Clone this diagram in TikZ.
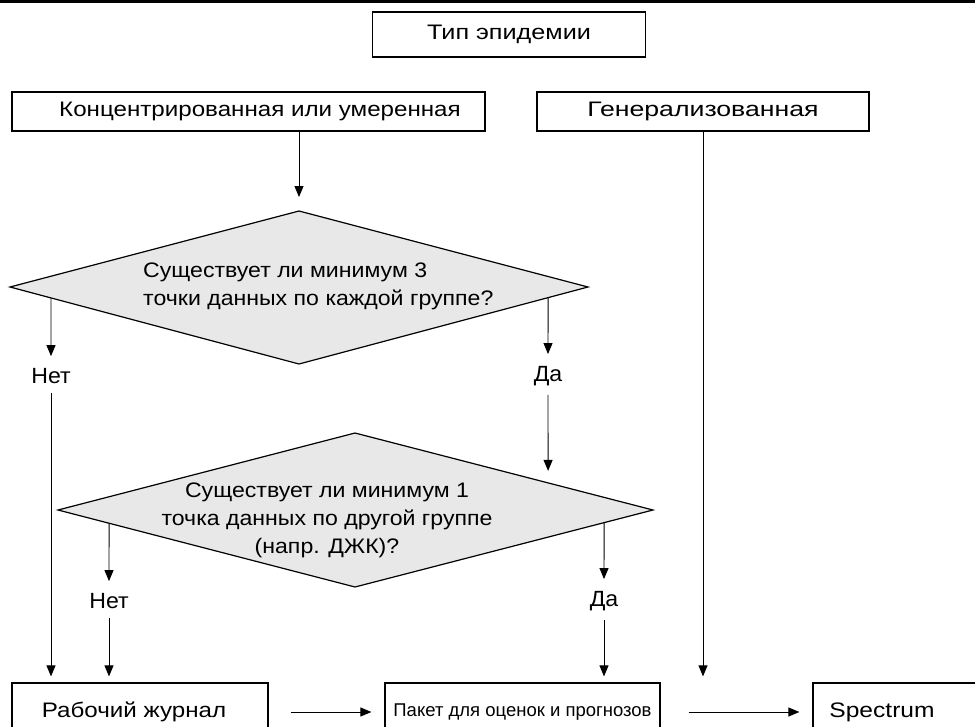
\documentclass[tikz,border=0pt]{standalone}
\usepackage{fontspec}
\setmainfont{Liberation Sans}
\usetikzlibrary{arrows.meta,calc}
\definecolor{diagray}{RGB}{232,232,232}
\newcommand\hsx[2]{\scalebox{#1}[1]{#2}}
\begin{document}
\begin{tikzpicture}[x=1pt,y=-1pt,
  box/.style={draw, line width=1.2pt, inner sep=0pt, anchor=center, font=\fontsize{21}{24}\selectfont},
  arr/.style={line width=0.9pt, -{Triangle[length=11pt,width=9pt]}},
  dia/.style={draw, line width=1.2pt, fill=diagray},
  txt/.style={font=\fontsize{21}{28}\selectfont, inner sep=0pt},
  lbl/.style={font=\fontsize{22}{22}\selectfont, inner sep=0pt}
]
\useasboundingbox (0,0) rectangle (975,726);
\draw[line width=3.5pt] (0,1.5) -- (975,1.5);

% top boxes
\node[box, minimum width=273pt, minimum height=45pt] (tip) at (509,34.5) {\hsx{1.2}{Тип эпидемии}};
\node[box, minimum width=473pt, minimum height=39pt] (conc) at (248.5,111.5) {};
\node[box, draw=none] (conct) at (260,111.5) {\hsx{1.15}{Концентрированная или умеренная}};
\node[box, minimum width=332pt, minimum height=39pt] (gen) at (703,111.5) {\hsx{1.27}{Генерализованная}};

% diamond 1
\coordinate (d1L) at (10,287);
\coordinate (d1R) at (588,287);
\coordinate (d1T) at (299,211);
\coordinate (d1B) at (299,364);
\draw[dia] (d1L) -- (d1T) -- (d1R) -- (d1B) -- cycle;
\node[txt, align=left, anchor=west] (q1) at (143,286) {\hsx{1.1}{Существует ли минимум 3}\\\hsx{1.1}{точки данных по каждой группе?}};
\coordinate (d1a) at ($(d1L)!0.142!(d1B)$);
\coordinate (d1b) at ($(d1R)!0.138!(d1B)$);

% diamond 2
\coordinate (d2L) at (58,510);
\coordinate (d2R) at (653,510);
\coordinate (d2T) at (355,433);
\coordinate (d2B) at (355,587);
\draw[dia] (d2L) -- (d2T) -- (d2R) -- (d2B) -- cycle;
\node[txt, align=center] (q2) at (327,520) {\hsx{1.1}{Существует ли минимум 1}\\\hsx{1.1}{точка данных по другой группе}\\\hsx{1.1}{(напр. ДЖК)?}};
\coordinate (d2a) at ($(d2L)!0.172!(d2B)$);
\coordinate (d2b) at ($(d2R)!0.164!(d2B)$);
\coordinate (d2in) at ($(d2R)!0.352!(d2T)$);

% labels
\node[lbl] (no1) at (51,376) {\hsx{1.05}{Нет}};
\node[lbl] (yes1) at (548,376) {\hsx{1.05}{Да}};
\node[lbl] (no2) at (109,601) {\hsx{1.05}{Нет}};
\node[lbl] (yes2) at (604,601) {\hsx{1.05}{Да}};

% bottom boxes
\node[box, minimum width=256pt, minimum height=58pt] (rab) at (140,712) {};
\node[box, draw=none] (rabt) at (134,712) {\hsx{1.15}{Рабочий журнал}};
\node[box, minimum width=275pt, minimum height=58pt, font=\fontsize{18.5}{20}\selectfont] (pak) at (522.5,712) {Пакет для оценок и прогнозов};
\node[box, minimum width=177pt, minimum height=58pt] (spec) at (901.5,712) {};
\node[box, draw=none] (spect) at (882,712) {\hsx{1.17}{Spectrum}};

% connectors
\draw[arr, shorten >=14pt] (conc.south -| d1T) -- (d1T);
\draw[arr] (d1a) -- ([yshift=12pt]no1.north);
\draw[arr] (d1b) -- ([yshift=12pt]yes1.north);
\draw[arr, shorten >=6pt] ([yshift=-9pt]no1.south) -- (rab.north -| no1);
\draw[arr, shorten >=12pt] ([yshift=-9pt]yes1.south) -- (d2in);
\draw[arr] (d2a) -- ([yshift=12pt]no2.north);
\draw[arr] (d2b) -- ([yshift=12pt]yes2.north);
\draw[arr, shorten >=6pt] ([yshift=-9pt]no2.south) -- (rab.north -| no2);
\draw[arr, shorten >=6pt] ([yshift=-9pt]yes2.south) -- (pak.north -| yes2);
\draw[arr, shorten >=6pt] (gen.south) -- (pak.north -| gen.south);
\draw[arr, shorten <=22pt, shorten >=13pt] (rab.east) -- (pak.west);
\draw[arr, shorten <=28pt, shorten >=13pt] (pak.east) -- (spec.west);
\end{tikzpicture}
\end{document}
